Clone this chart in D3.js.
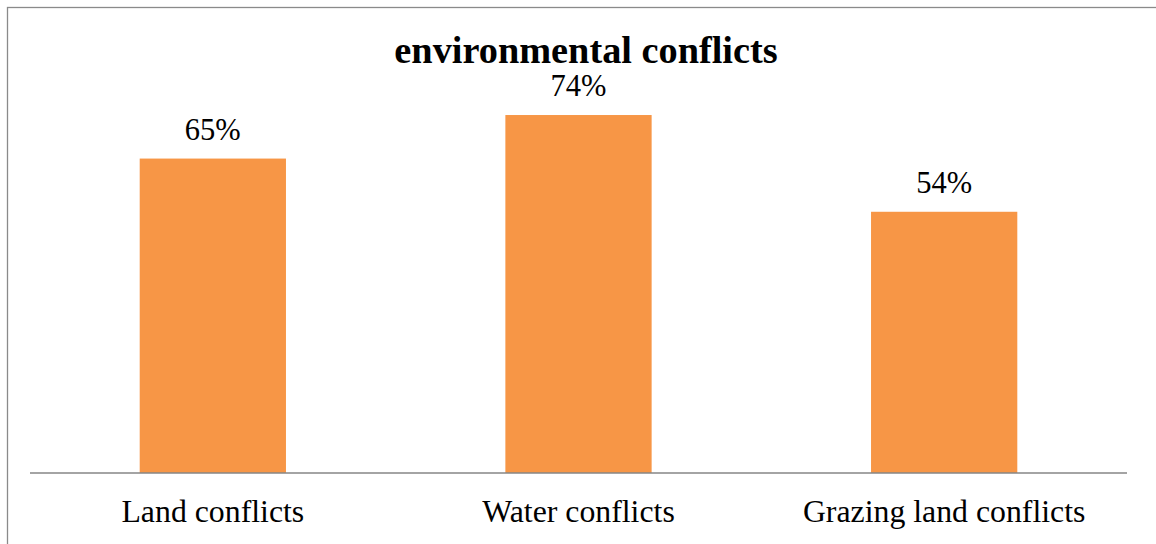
<!DOCTYPE html>
<html>
<head>
<meta charset="utf-8">
<script src="https://cdn.jsdelivr.net/npm/d3@7"></script>
<style>
  html, body { margin: 0; padding: 0; background: #fff; }
  svg { display: block; }
</style>
</head>
<body>
<svg id="chart" width="1156" height="544"></svg>
<script>
// Share of respondents reporting each type of environmental conflict
const categories = ["Land conflicts", "Water conflicts", "Grazing land conflicts"];
const values = [0.65, 0.74, 0.54];
const title = "environmental conflicts";

const W = 1156, H = 544;
const plot = { left: 30, right: 1127, top: 86, bottom: 473 };
const serif = "'Liberation Serif', 'Times New Roman', Times, serif";

const svg = d3.select("#chart");

// chart frame
svg.append("rect")
  .attr("x", 7.5).attr("y", 7.5)
  .attr("width", W + 10).attr("height", H + 10)
  .attr("fill", "#fff")
  .attr("stroke", "#8a8a8a")
  .attr("stroke-width", 1.3);

const x = d3.scaleBand()
  .domain(categories)
  .range([plot.left, plot.right])
  .paddingInner(0.6)
  .paddingOuter(0.3);

const y = d3.scaleLinear()
  .domain([0, 0.8])
  .range([plot.bottom, plot.top]);

const data = categories.map((c, i) => ({ cat: c, val: values[i] }));

// bars
svg.append("g")
  .selectAll("rect")
  .data(data)
  .join("rect")
  .attr("x", d => x(d.cat))
  .attr("y", d => y(d.val))
  .attr("width", x.bandwidth())
  .attr("height", d => y(0) - y(d.val))
  .attr("fill", "#F79646");

// value labels
svg.append("g")
  .selectAll("text")
  .data(data)
  .join("text")
  .attr("x", d => x(d.cat) + x.bandwidth() / 2)
  .attr("y", d => y(d.val) - 19)
  .attr("text-anchor", "middle")
  .attr("font-family", serif)
  .attr("font-size", 30.5)
  .attr("fill", "#000")
  .text(d => d3.format(".0%")(d.val));

// category axis
const xAxis = svg.append("g")
  .attr("transform", `translate(0,${plot.bottom})`)
  .call(d3.axisBottom(x).tickSize(0).tickPadding(0));
xAxis.select(".domain")
  .attr("stroke", "#868686")
  .attr("stroke-width", 1.3)
  .attr("d", `M${plot.left},0H${plot.right}`);
xAxis.selectAll(".tick text")
  .attr("dy", null)
  .attr("y", 48.5)
  .attr("font-family", serif)
  .attr("font-size", 31.8)
  .attr("fill", "#000");

// title
svg.append("text")
  .attr("x", 586)
  .attr("y", 62.5)
  .attr("text-anchor", "middle")
  .attr("font-family", serif)
  .attr("font-weight", "bold")
  .attr("font-size", 38.3)
  .attr("fill", "#000")
  .text(title);
</script>
</body>
</html>
